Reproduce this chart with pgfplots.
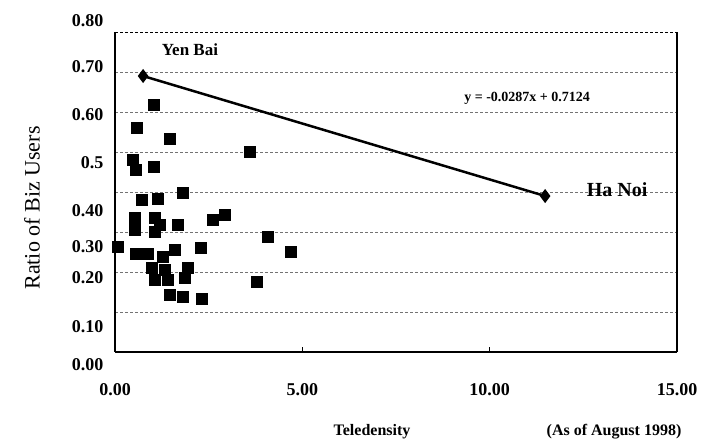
\documentclass[border=0pt]{standalone}
\usepackage{pgfplots}
\pgfplotsset{compat=1.18}
\usepackage{fontspec}
\setmainfont{Liberation Serif}
\begin{document}
\begin{tikzpicture}[x=1pt,y=1pt]
\path[use as bounding box] (0,0) rectangle (703,440);
\begin{axis}[
  at={(115pt,88pt)}, anchor=south west,
  scale only axis, width=562pt, height=320pt,
  xmin=0, xmax=15, ymin=0, ymax=0.8,
  axis line style={draw=none},
  xtick={0,5,10,15},
  xticklabels={0.00,5.00,10.00,15.00},
  xticklabel style={font=\fontsize{18}{18}\selectfont\bfseries, yshift=-28pt},
  xtick pos=bottom, tick align=inside,
  major tick length=5pt,
  xtick style={line width=1pt, black},
  ytick={0.1,0.2,0.3,0.4,0.5,0.6,0.7}, yticklabels={},
  ytick style={draw=none},
  ymajorgrids, grid style={densely dashed, black!55, line width=0.6pt},
  clip=false,
]
\draw[line width=2.5pt] (rel axis cs:0,1) -- (rel axis cs:0,0);
\draw[line width=1.8pt] (rel axis cs:0,0) -- (rel axis cs:1,0);
\draw[line width=2.5pt] (rel axis cs:1,0) -- (rel axis cs:1,1);
\draw[line width=0.8pt, densely dashed] (rel axis cs:0,1) -- (rel axis cs:1,1);
\addplot[only marks, mark=square*, mark size=5.5pt, black] coordinates {
(1.04,0.6175) (0.59,0.56) (1.47,0.5325) (3.60,0.50) (0.48,0.48) (0.56,0.455)
(1.04,0.4625) (1.81,0.3975) (0.72,0.38) (1.15,0.3825) (0.53,0.335) (0.53,0.305)
(1.07,0.335) (1.07,0.30) (1.20,0.3175) (1.68,0.3175) (2.62,0.33) (2.94,0.3425)
(4.08,0.2875) (0.08,0.2625) (0.56,0.245) (0.88,0.245) (1.28,0.2375) (1.60,0.255)
(2.30,0.26) (4.70,0.25) (0.99,0.21) (1.33,0.205) (1.07,0.18) (1.41,0.18)
(1.95,0.21) (1.87,0.185) (3.79,0.175) (1.47,0.1425) (1.81,0.1375) (2.32,0.1325)
};
\addplot[black, line width=2.5pt, mark=diamond*, mark size=5pt] coordinates {(0.75,0.69) (11.48,0.39)};
\node[font=\fontsize{17}{17}\selectfont\bfseries] at (axis cs:2.0,0.755) {Yen Bai};
\node[font=\fontsize{20}{20}\selectfont\bfseries] at (axis cs:13.4,0.405) {Ha Noi};
\node[font=\fontsize{14}{14}\selectfont\bfseries] at (axis cs:11.0,0.635) {y = -0.0287x + 0.7124};
\end{axis}
\begin{scope}[every node/.style={anchor=east, font=\fontsize{18}{18}\selectfont\bfseries}]
\node at (107,419) {0.80};
\node at (107,373) {0.70};
\node at (107,325) {0.60};
\node at (107,277) {0.5};
\node at (107,229) {0.40};
\node at (107,193) {0.30};
\node at (107,162) {0.20};
\node at (107,113) {0.10};
\node at (107,75) {0.00};
\end{scope}
\node[rotate=90, font=\fontsize{22}{22}\selectfont] at (32,232) {Ratio of Biz Users};
\node[font=\fontsize{16}{16}\selectfont\bfseries] at (372,8) {Teledensity};
\node[font=\fontsize{16}{16}\selectfont\bfseries] at (614,8) {(As of August 1998)};
\end{tikzpicture}
\end{document}
